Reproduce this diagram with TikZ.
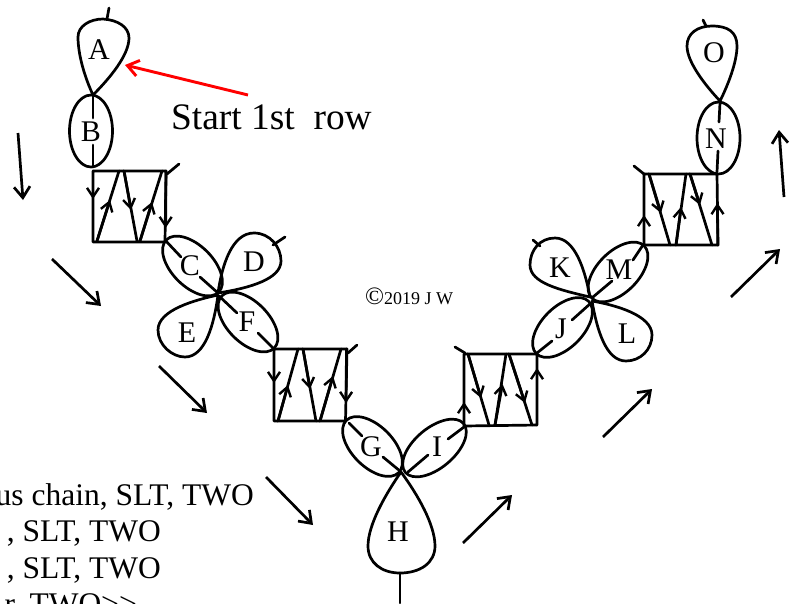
\documentclass[tikz,border=0pt]{standalone}
\usepackage{fontspec}
\setmainfont{Liberation Serif}
\usetikzlibrary{arrows.meta}
\tikzset{
  x=1pt,y=-1pt,
  knot/.style={line width=2.7pt,line join=round,line cap=round,black},
  inhead/.style={knot,-{Straight Barb[length=9pt,width=12pt,line width=2.4pt]}},
  flow/.style={line width=2.7pt,black,-{Straight Barb[length=11pt,width=16pt,line width=2.7pt]}},
  startarrow/.style={line width=2.9pt,red,-{Straight Barb[length=11pt,width=16pt,line width=2.9pt]}},
  letter/.style={font=\fontsize{30}{32}\selectfont,inner sep=0pt,text=black},
  listline/.style={font=\fontsize{31.5}{34}\selectfont,anchor=base east,inner sep=0pt},
}
\newcommand{\tiltloop}[5]{\draw[knot,rotate around={#3:(#1,#2)}] (#1,#2) ellipse [x radius=#4pt,y radius=#5pt];}
\begin{document}
\begin{tikzpicture}
\useasboundingbox (0,0) rectangle (795,603);
\clip (0,0) rectangle (795,603);

% teardrop petals
\draw[knot] (93,95) .. controls (85,78) and (78,55) .. (78,37) .. controls (78,26) and (90,19) .. (103,19) .. controls (118,20) and (129,27) .. (129,38) .. controls (129,55) and (110,78) .. (93,95);
\draw[knot] (107,19) -- (109,8);
\draw[knot] (720,101) .. controls (705,85) and (687,62) .. (687,46) .. controls (687,33) and (698,26) .. (712,26) .. controls (728,26) and (737,32) .. (737,46) .. controls (737,62) and (728,85) .. (720,101);
\draw[knot] (706,26) -- (703,20);
\draw[knot] (218,293) .. controls (222,265) and (232,233) .. (254,233) .. controls (270,233) and (281,247) .. (281,261) .. controls (281,279) and (250,288) .. (218,293);
\draw[knot] (273,245) -- (285,237);
\draw[knot] (218,295) .. controls (195,300) and (158,310) .. (158,330) .. controls (158,345) and (172,357) .. (185,357) .. controls (205,357) and (214,325) .. (218,295);
\draw[knot] (401,472) .. controls (385,495) and (368,525) .. (368,546) .. controls (368,563) and (382,573) .. (400,573) .. controls (420,573) and (435,563) .. (435,546) .. controls (435,525) and (418,495) .. (401,472);
\draw[knot] (400,573) -- (400,603);
\draw[knot] (590,297) .. controls (585,270) and (575,238) .. (555,238) .. controls (540,238) and (530,250) .. (530,265) .. controls (530,283) and (560,290) .. (590,297);
\draw[knot] (540,246) -- (533,240);
\draw[knot] (592,301) .. controls (615,305) and (652,315) .. (652,335) .. controls (652,350) and (640,361) .. (626,361) .. controls (606,361) and (597,330) .. (592,301);

% ellipse loops
\draw[knot] (91,131) ellipse [x radius=21.5pt,y radius=36pt];
\draw[knot] (718.5,138) ellipse [x radius=21.5pt,y radius=36pt];
\tiltloop{192.5}{266}{-45}{37}{20.5}
\tiltloop{248}{322}{-45}{37}{20.5}
\tiltloop{372.5}{446.5}{-45}{37}{20.5}
\tiltloop{434.5}{448}{40}{38}{20}
\tiltloop{562.5}{327.5}{45}{37}{20.5}
\tiltloop{618}{272}{45}{37}{20.5}

% chords through the loops
\draw[knot] (93,96) -- (93,118) (93,145) -- (93,167);
\draw[knot] (720,103) -- (719,122) (718,151) -- (717,172);
\draw[knot] (165,240) -- (181,257) (200,277) -- (218,293);
\draw[knot] (219,296) -- (237,313) (258,333) -- (274,349);
\draw[knot] (349,423) -- (362,436) (383,457) -- (400,471);
\draw[knot] (464,427) -- (448,439) (428,455) -- (408,472);
\draw[knot] (537,353) -- (552,341) (572,320) -- (591,303);
\draw[knot] (643,245) -- (633,260) (612,281) -- (593,297);

% box 1
\draw[knot] (93,171) -- (166,171) -- (165,242) -- (93,242) -- cycle;
\draw[knot] (97,241) -- (119,171) (124,171) -- (137,241) (140,241) -- (162,171);
\draw[knot] (167,174) -- (179,164);
\draw[inhead] (93,171) -- (93,199);
\draw[inhead] (97,241) -- (110,200);
\draw[inhead] (124,171) -- (131,210);
\draw[inhead] (140,241) -- (152,202);
\draw[inhead] (166,171) -- (165.6,228);

% box 2
\draw[knot] (274,349) -- (347,349) -- (345.5,421) -- (274,421) -- cycle;
\draw[knot] (278,421) -- (298,349) (303,349) -- (316,421) (320,421) -- (341,349);
\draw[knot] (348,353) -- (357,345);
\draw[inhead] (274,349) -- (274,383);
\draw[inhead] (278,421) -- (288,385);
\draw[inhead] (303,349) -- (310,389);
\draw[inhead] (320,421) -- (333,376);
\draw[inhead] (346.5,349) -- (346,403);

% box 3
\draw[knot] (464,354) -- (537,354) -- (537,425) -- (464,426) -- cycle;
\draw[knot] (468,354) -- (489,425) (495,425) -- (506,354) (509,354) -- (532,425);
\draw[knot] (465,353) -- (455,347);
\draw[inhead] (464,426) -- (464,402);
\draw[inhead] (468,354) -- (481,398);
\draw[inhead] (495,425) -- (502.5,384);
\draw[inhead] (509,354) -- (525,403);
\draw[inhead] (537,425) -- (537,368);

% box 4
\draw[knot] (644,174) -- (717,174) -- (718,245) -- (644,245) -- cycle;
\draw[knot] (649,174) -- (670,245) (676,245) -- (686,174) (690,174) -- (712,245);
\draw[knot] (644,174) -- (634,166);
\draw[inhead] (644,245) -- (644,215);
\draw[inhead] (649,174) -- (661,213);
\draw[inhead] (676,245) -- (681,207);
\draw[inhead] (690,174) -- (700,205);
\draw[inhead] (717.8,245) -- (717.4,203);

% letters
\node[letter] (A) at (99,50) {A};
\node[letter] (B) at (91,132) {B};
\node[letter] (C) at (190,266) {C};
\node[letter] (D) at (254,262) {D};
\node[letter] (E) at (187,333) {E};
\node[letter] (F) at (247,322) {F};
\node[letter] (G) at (371,447) {G};
\node[letter] (H) at (398,532) {H};
\node[letter] (I) at (437,447) {I};
\node[letter] (J) at (561,329) {J};
\node[letter] (K) at (560,268) {K};
\node[letter] (L) at (627,334) {L};
\node[letter] (M) at (619,270) {M};
\node[letter] (N) at (716,139) {N};
\node[letter] (O) at (714,53) {O};

% direction arrows
\coordinate (f1a) at (18,133); \coordinate (f1b) at (23,200);
\coordinate (f2a) at (52,259); \coordinate (f2b) at (101,306);
\coordinate (f3a) at (159,366); \coordinate (f3b) at (207,413);
\coordinate (f4a) at (266,477); \coordinate (f4b) at (313,525);
\coordinate (f5a) at (463,543); \coordinate (f5b) at (512,495);
\coordinate (f6a) at (603,437); \coordinate (f6b) at (652,389);
\coordinate (f7a) at (731,297); \coordinate (f7b) at (780,249);
\coordinate (f8a) at (784,197); \coordinate (f8b) at (779,130);
\draw[flow] (f1a) -- (f1b);
\draw[flow] (f2a) -- (f2b);
\draw[flow] (f3a) -- (f3b);
\draw[flow] (f4a) -- (f4b);
\draw[flow] (f5a) -- (f5b);
\draw[flow] (f6a) -- (f6b);
\draw[flow] (f7a) -- (f7b);
\draw[flow] (f8a) -- (f8b);

% start label
\node[font=\fontsize{37.4}{40}\selectfont,anchor=base west,inner sep=0pt] (startlabel) at (171,129) {Start 1st\ \ row};
\coordinate (starttail) at (248,95);
\coordinate (starttip) at (125,65);
\draw[startarrow] (starttail) -- (starttip);

% copyright
\node[anchor=base west,inner sep=0pt] (copyright) at (365,304) {{\fontsize{25}{27}\selectfont ©}{\fontsize{18}{19}\selectfont 2019 J W}};

% cropped instructions
\node[listline] (line1) at (254,505) {us chain, SLT, TWO};
\node[listline] (line2) at (161,541) {, SLT, TWO};
\node[listline] (line3) at (161,578) {, SLT, TWO};
\node[listline] (line4) at (137,614) {r, TWO>{}>};
\end{tikzpicture}
\end{document}
